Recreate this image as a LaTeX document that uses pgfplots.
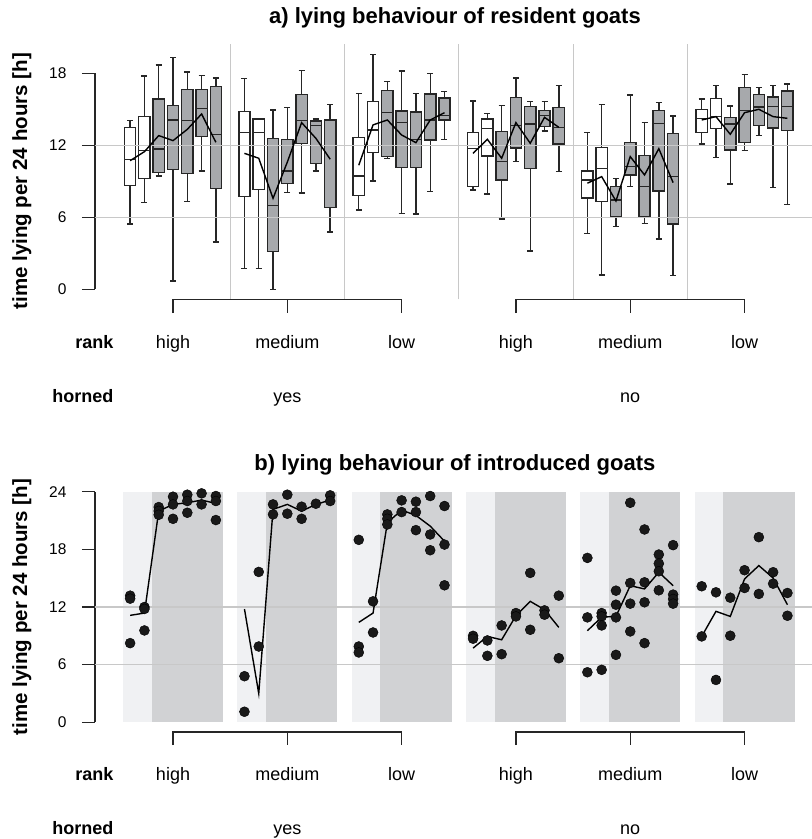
\documentclass[border=0pt]{standalone}
\usepackage{pgfplots}
\pgfplotsset{compat=1.18}
\usepgfplotslibrary{statistics}
\usepackage{fontspec}
\setmainfont{Liberation Sans}
\definecolor{boxgray}{HTML}{A7A9AC}
\definecolor{edge}{HTML}{262626}
\definecolor{gridc}{HTML}{C8C8C8}
\definecolor{bglight}{HTML}{F0F1F3}
\definecolor{bgdark}{HTML}{D1D2D4}
\newcommand{\bw}[6]{\addplot[draw=edge, fill=white, line width=1.4pt, boxplot prepared={draw position=#1, lower whisker=#2, lower quartile=#3, median=#4, upper quartile=#5, upper whisker=#6}] coordinates {};}
\newcommand{\bg}[6]{\addplot[draw=edge, fill=boxgray, line width=1.4pt, boxplot prepared={draw position=#1, lower whisker=#2, lower quartile=#3, median=#4, upper quartile=#5, upper whisker=#6}] coordinates {};}
\newcommand{\lab}{\fontsize{18}{20}\selectfont}
\newcommand{\ttl}{\fontsize{22}{24}\selectfont\bfseries}
\newcommand{\ylb}{\fontsize{20.5}{23}\selectfont\bfseries}
\pgfplotsset{myax/.style={scale only axis, width=717pt, xmin=-1.46, xmax=48.72, ymin=0,
  axis x line=none, axis y line*=left,
  y axis line style={line width=1.4pt, draw=edge},
  ytick style={line width=1.4pt, draw=edge},
  tick align=outside, major tick length=13pt,
  yticklabel style={font=\fontsize{15.5}{16}\selectfont, xshift=-12pt},
  /pgf/number format/assume math mode=true,
  clip=false, boxplot/draw direction=y, boxplot/box extend=0.79, boxplot/whisker extend=0.42}}
\begin{document}
\begin{tikzpicture}
\useasboundingbox (0pt,0pt) rectangle (812pt,-839pt);
% ---------------- panel a ----------------
\begin{axis}[myax, height=216pt, ymax=18, ytick={0,6,12,18},
  at={(95pt,-289.3pt)}, anchor=south west]
\foreach \s in {8,16,24,32,40}{\edef\tmp{\noexpand\draw[gridc, line width=1.1pt] (axis cs:\s,-0.83) -- (axis cs:\s,20.42);}\tmp}
% group 1 (horned yes, rank high)
\bw{1}{5.45}{8.64}{10.83}{13.47}{14.06}
\bw{2}{7.25}{9.25}{11.58}{14.42}{17.78}
\bg{3}{9.45}{9.75}{11.70}{15.86}{18.70}
\bg{4}{0.70}{9.97}{14.11}{15.33}{19.33}
\bg{5}{7.34}{9.64}{14.06}{16.64}{18.11}
\bg{6}{9.86}{12.72}{15.08}{16.64}{17.81}
\bg{7}{3.95}{8.39}{12.89}{16.89}{17.61}
% group 2
\bw{9}{1.72}{7.75}{13.09}{14.84}{17.59}
\bw{10}{1.72}{8.31}{13.09}{14.20}{14.25}
\bg{11}{0.00}{3.17}{7.00}{12.58}{14.95}
\bg{12}{8.08}{8.83}{9.86}{12.50}{15.14}
\bg{13}{8.03}{12.17}{14.08}{16.25}{18.25}
\bg{14}{9.86}{10.50}{13.67}{14.03}{14.20}
\bg{15}{4.78}{6.83}{14.10}{14.17}{15.42}
% group 3
\bw{17}{6.61}{7.84}{9.45}{12.64}{16.31}
\bw{18}{9.03}{11.39}{13.28}{15.67}{19.59}
\bg{19}{10.92}{11.06}{14.75}{16.56}{17.31}
\bg{20}{6.34}{10.14}{13.89}{14.86}{18.20}
\bg{21}{6.28}{10.14}{12.50}{14.78}{16.31}
\bg{22}{8.14}{12.45}{14.11}{16.28}{17.97}
\bg{23}{12.47}{14.11}{14.50}{15.95}{16.47}
% group 4 (horned no, rank high)
\bw{25}{8.28}{8.59}{11.75}{13.09}{15.70}
\bw{26}{7.95}{11.11}{13.42}{14.20}{14.64}
\bg{27}{5.86}{9.11}{10.64}{13.17}{15.31}
\bg{28}{10.64}{11.78}{13.67}{15.97}{17.61}
\bg{29}{3.20}{10.06}{13.78}{15.22}{15.64}
\bg{30}{13.20}{13.59}{14.47}{14.92}{15.64}
\bg{31}{9.81}{12.11}{13.50}{15.14}{17.00}
% group 5
\bw{33}{4.64}{7.61}{9.11}{9.86}{13.09}
\bw{34}{1.20}{7.34}{10.09}{11.84}{15.42}
\bg{35}{5.22}{6.09}{7.45}{8.56}{9.25}
\bg{36}{8.56}{9.53}{10.22}{12.25}{16.20}
\bg{37}{5.47}{6.09}{8.56}{11.14}{13.89}
\bg{38}{4.20}{8.20}{13.84}{14.89}{15.56}
\bg{39}{1.17}{5.45}{9.42}{13.00}{14.45}
% group 6
\bw{41}{12.11}{13.09}{14.22}{15.00}{15.86}
\bw{42}{11.00}{13.39}{14.39}{15.89}{16.97}
\bg{43}{8.78}{11.61}{13.78}{14.31}{15.28}
\bg{44}{11.59}{12.22}{14.92}{16.81}{17.89}
\bg{45}{12.84}{13.67}{15.20}{16.22}{16.84}
\bg{46}{8.47}{13.45}{15.22}{16.03}{16.97}
\bg{47}{7.06}{13.25}{15.22}{16.53}{17.11}
% grid lines
\draw[gridc, line width=1.4pt] (axis cs:-1.46,6) -- (axis cs:48.72,6);
\draw[gridc, line width=1.4pt] (axis cs:-1.46,12) -- (axis cs:48.72,12);
% mean lines
\addplot[black, line width=1.4pt] coordinates {(1,10.72) (2,11.47) (3,12.81) (4,12.39) (5,13.33) (6,14.61) (7,12.25)};
\addplot[black, line width=1.4pt] coordinates {(9,11.33) (10,10.92) (11,7.58) (12,10.60) (13,13.89) (14,12.58) (15,10.84)};
\addplot[black, line width=1.4pt] coordinates {(17,10.34) (18,13.70) (19,14.11) (20,12.86) (21,12.22) (22,14.11) (23,14.72)};
\addplot[black, line width=1.4pt] coordinates {(25,11.33) (26,12.50) (27,10.92) (28,13.89) (29,12.17) (30,14.33) (31,13.50)};
\addplot[black, line width=1.4pt] coordinates {(33,8.84) (34,9.39) (35,7.36) (36,11.06) (37,9.53) (38,11.72) (39,8.89)};
\addplot[black, line width=1.4pt] coordinates {(41,14.11) (42,14.39) (43,12.92) (44,14.72) (45,15.00) (46,14.39) (47,14.25)};
% brackets
\draw[edge, line width=1.4pt] (axis cs:4,-1.98) -- (axis cs:4,-0.83) -- (axis cs:20,-0.83) -- (axis cs:20,-1.98);
\draw[edge, line width=1.4pt] (axis cs:12,-0.83) -- (axis cs:12,-1.98);
\draw[edge, line width=1.4pt] (axis cs:28,-1.98) -- (axis cs:28,-0.83) -- (axis cs:44,-0.83) -- (axis cs:44,-1.98);
\draw[edge, line width=1.4pt] (axis cs:36,-0.83) -- (axis cs:36,-1.98);
% labels
\node[anchor=base east, font=\lab\bfseries] at (axis cs:0.08,-4.93) {rank};
\node[anchor=base, font=\lab] at (axis cs:4,-4.93) {high};
\node[anchor=base, font=\lab] at (axis cs:12,-4.93) {medium};
\node[anchor=base, font=\lab] at (axis cs:20,-4.93) {low};
\node[anchor=base, font=\lab] at (axis cs:28,-4.93) {high};
\node[anchor=base, font=\lab] at (axis cs:36,-4.93) {medium};
\node[anchor=base, font=\lab] at (axis cs:44,-4.93) {low};
\node[anchor=base east, font=\lab\bfseries] at (axis cs:0.08,-9.43) {horned};
\node[anchor=base, font=\lab] at (axis cs:12,-9.43) {yes};
\node[anchor=base, font=\lab] at (axis cs:36,-9.43) {no};
\node[font=\ttl] at (axis cs:23.73,22.6) {a) lying behaviour of resident goats};
\node[rotate=90, font=\ylb] at (axis cs:-6.57,9) {time lying per 24 hours [h]};
\end{axis}
% ---------------- panel b ----------------
\begin{axis}[myax, height=230.6pt, ymax=24, ytick={0,6,12,18,24},
  at={(95pt,-722.3pt)}, anchor=south west]
\foreach \g in {0,8,16,24,32,40}{%
  \edef\tmp{\noexpand\fill[bglight] (axis cs:\g+0.5,0) rectangle (axis cs:\g+2.5,24);
  \noexpand\fill[bgdark] (axis cs:\g+2.5,0) rectangle (axis cs:\g+7.5,24);}\tmp}
\draw[gridc, line width=1.4pt] (axis cs:-1.46,6) -- (axis cs:48.72,6);
\draw[gridc, line width=1.4pt] (axis cs:-1.46,12) -- (axis cs:48.72,12);
% mean lines
\addplot[black, line width=1.4pt] coordinates {(1,11.13) (2,11.37) (3,21.98) (4,22.68) (5,22.85) (6,23.13) (7,22.78)};
\addplot[black, line width=1.4pt] coordinates {(9,11.79) (10,3.00) (11,22.16) (12,22.68) (13,21.98) (14,22.68) (15,23.13)};
\addplot[black, line width=1.4pt] coordinates {(17,10.40) (18,11.37) (19,20.77) (20,22.09) (21,21.53) (22,20.42) (23,18.85)};
\addplot[black, line width=1.4pt] coordinates {(25,7.72) (26,8.94) (27,8.59) (28,11.09) (29,12.59) (30,11.72) (31,9.88)};
\addplot[black, line width=1.4pt] coordinates {(33,9.53) (34,10.95) (35,11.02) (36,14.22) (37,13.88) (38,15.62) (39,14.22)};
\addplot[black, line width=1.4pt] coordinates {(41,8.94) (42,11.55) (43,11.02) (44,14.92) (45,16.31) (46,15.02) (47,12.24)};
% individual goats
\addplot[only marks, mark=*, mark size=5pt, draw=black, fill=black!90] table {
x y
1 13.18
1 12.87
1 8.24
2 12.00
2 11.80
2 9.56
3 22.40
3 22.00
3 21.60
4 23.48
4 22.68
4 21.18
5 23.69
5 23.03
5 21.81
6 23.83
6 22.68
7 23.55
7 23.03
7 21.05
9 4.80
9 1.10
10 15.65
10 7.89
11 22.68
11 21.64
12 23.69
12 21.71
13 22.44
13 21.18
14 22.75
15 23.62
15 23.03
17 18.99
17 7.89
17 7.27
18 12.59
18 9.35
19 21.64
19 21.18
19 20.59
20 23.10
20 21.88
21 22.96
21 21.88
21 20.00
22 23.55
22 19.55
22 17.91
23 22.51
23 18.50
23 14.26
25 9.00
25 8.70
26 8.52
26 6.92
27 10.08
27 7.09
28 11.37
28 11.02
29 15.55
29 9.63
30 11.65
30 11.20
31 13.18
31 6.67
33 17.11
33 10.92
33 5.21
34 11.37
34 11.02
34 10.08
34 5.46
35 13.70
35 12.24
35 10.92
35 7.02
36 22.85
36 14.50
36 12.35
36 9.46
37 20.07
37 14.57
37 12.49
37 8.24
38 17.46
38 16.52
38 15.72
38 13.74
39 18.44
39 13.29
39 12.83
39 12.35
41 14.16
41 8.94
42 13.53
42 4.41
43 12.97
43 9.01
44 15.83
44 13.98
45 19.27
45 13.36
46 15.62
46 14.43
47 13.46
47 11.09
};
% brackets
\draw[edge, line width=1.4pt] (axis cs:4,-2.37) -- (axis cs:4,-1.01) -- (axis cs:20,-1.01) -- (axis cs:20,-2.37);
\draw[edge, line width=1.4pt] (axis cs:12,-1.01) -- (axis cs:12,-2.37);
\draw[edge, line width=1.4pt] (axis cs:28,-2.37) -- (axis cs:28,-1.01) -- (axis cs:44,-1.01) -- (axis cs:44,-2.37);
\draw[edge, line width=1.4pt] (axis cs:36,-1.01) -- (axis cs:36,-2.37);
\node[anchor=base east, font=\lab\bfseries] at (axis cs:0.08,-6.1) {rank};
\node[anchor=base, font=\lab] at (axis cs:4,-6.1) {high};
\node[anchor=base, font=\lab] at (axis cs:12,-6.1) {medium};
\node[anchor=base, font=\lab] at (axis cs:20,-6.1) {low};
\node[anchor=base, font=\lab] at (axis cs:28,-6.1) {high};
\node[anchor=base, font=\lab] at (axis cs:36,-6.1) {medium};
\node[anchor=base, font=\lab] at (axis cs:44,-6.1) {low};
\node[anchor=base east, font=\lab\bfseries] at (axis cs:0.08,-11.71) {horned};
\node[anchor=base, font=\lab] at (axis cs:12,-11.71) {yes};
\node[anchor=base, font=\lab] at (axis cs:36,-11.71) {no};
\node[font=\ttl] at (axis cs:23.73,26.75) {b) lying behaviour of introduced goats};
\node[rotate=90, font=\ylb] at (axis cs:-6.57,12) {time lying per 24 hours [h]};
\end{axis}
\end{tikzpicture}
\end{document}
